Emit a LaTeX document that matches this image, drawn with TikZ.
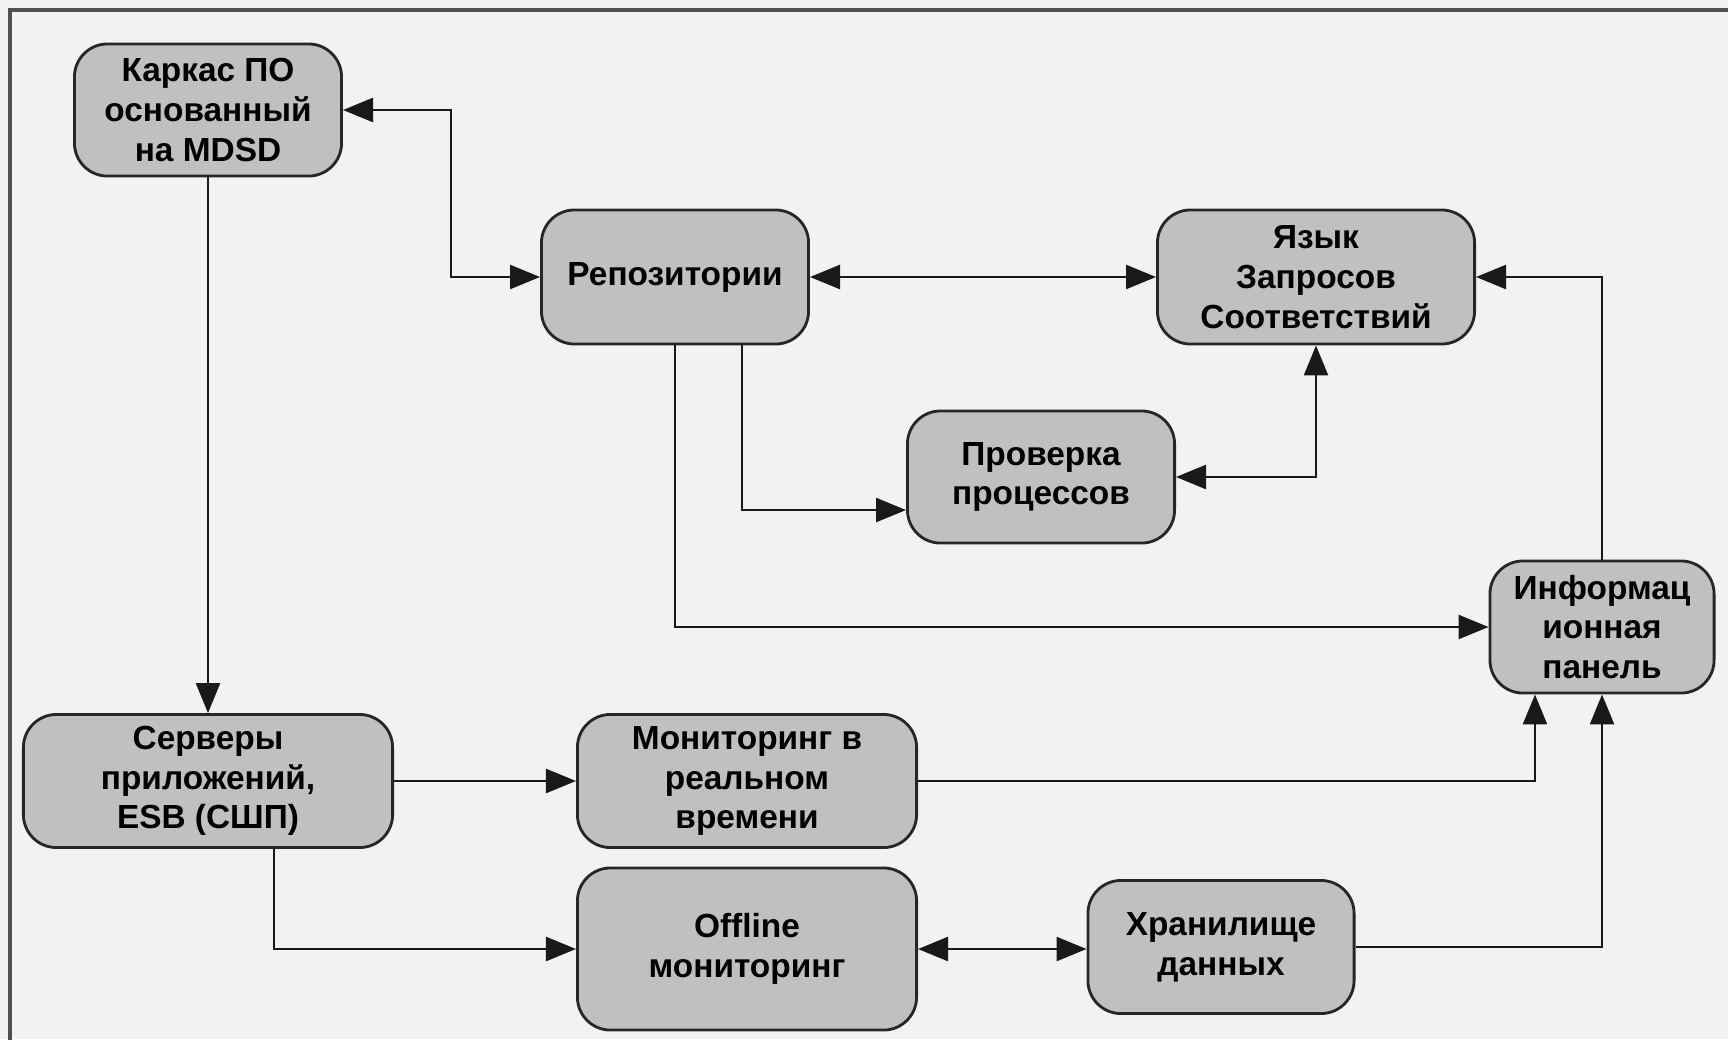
\documentclass[tikz,border=0pt]{standalone}
\usepackage{fontspec}
\setmainfont{Liberation Sans}
\usetikzlibrary{arrows.meta}

\definecolor{boxgray}{HTML}{C0C0C0}
\definecolor{backgray}{HTML}{F2F2F2}
\definecolor{framegray}{HTML}{505050}

\begin{document}
\begin{tikzpicture}[x=0.01cm,y=-0.01cm,
    block/.style={draw=black!85, line width=0.8pt, fill=boxgray, rounded corners=0.33cm,
      align=center, font=\fontsize{9.5}{11.3}\selectfont\bfseries, inner sep=2pt},
    link/.style={line width=0.7pt, black!90, -{Triangle[length=3mm,width=2.4mm]}},
    bilink/.style={line width=0.7pt, black!90, {Triangle[length=3mm,width=2.4mm]}-{Triangle[length=3mm,width=2.4mm]}}]
        % Background
        \useasboundingbox (0,0) rectangle (1728,1039);
        \fill[backgray] (0,0) rectangle (1728,1039);
        \draw[framegray, line width=0.9pt] (10,10) rectangle (1780,1080);

        % Nodes
        \node[block, minimum width=2.67cm, minimum height=1.32cm] (karkas) at (208,110) {Каркас ПО\\основанный\\на MDSD};
        \node[block, minimum width=2.67cm, minimum height=1.34cm] (repo) at (675,277) {Репозитории};
        \node[block, minimum width=3.17cm, minimum height=1.34cm] (lang) at (1316,277) {Язык\\Запросов\\Соответствий};
        \node[block, minimum width=2.67cm, minimum height=1.32cm] (check) at (1041,477) {Проверка\\процессов};
        \node[block, minimum width=2.24cm, minimum height=1.32cm] (info) at (1602,627) {Информац\\ионная\\панель};
        \node[block, minimum width=3.69cm, minimum height=1.33cm] (servers) at (208,781) {Серверы\\приложений,\\ESB (СШП)};
        \node[block, minimum width=3.39cm, minimum height=1.33cm] (monitor) at (747,781) {Мониторинг в\\реальном\\времени};
        \node[block, minimum width=3.39cm, minimum height=1.62cm] (offline) at (747,949) {Offline\\мониторинг};
        \node[block, minimum width=2.66cm, minimum height=1.33cm] (store) at (1221,947) {Хранилище\\данных};

        % Arrows
        \draw[bilink] (karkas.east) -- ++(108,0) |- (repo.west);
        \draw[link] (karkas.south) -- (servers.north);
        \draw[bilink] (repo.east) -- (lang.west);
        \draw[link] ([xshift=0.67cm]repo.south) |- ([yshift=-0.33cm]check.west);
        \draw[bilink] (check.east) -| (lang.south);
        \draw[link] (repo.south) |- (info.west);
        \draw[link] (info.north) |- (lang.east);
        \draw[link] (servers.east) -- (monitor.west);
        \draw[link] (monitor.east) -| ([xshift=-0.67cm]info.south);
        \draw[link] ([xshift=0.66cm]servers.south) |- (offline.west);
        \draw[bilink] (offline.east) -- (offline.east -| store.west);
        \draw[link] (store.east) -| (info.south);
    \end{tikzpicture}
\end{document}
